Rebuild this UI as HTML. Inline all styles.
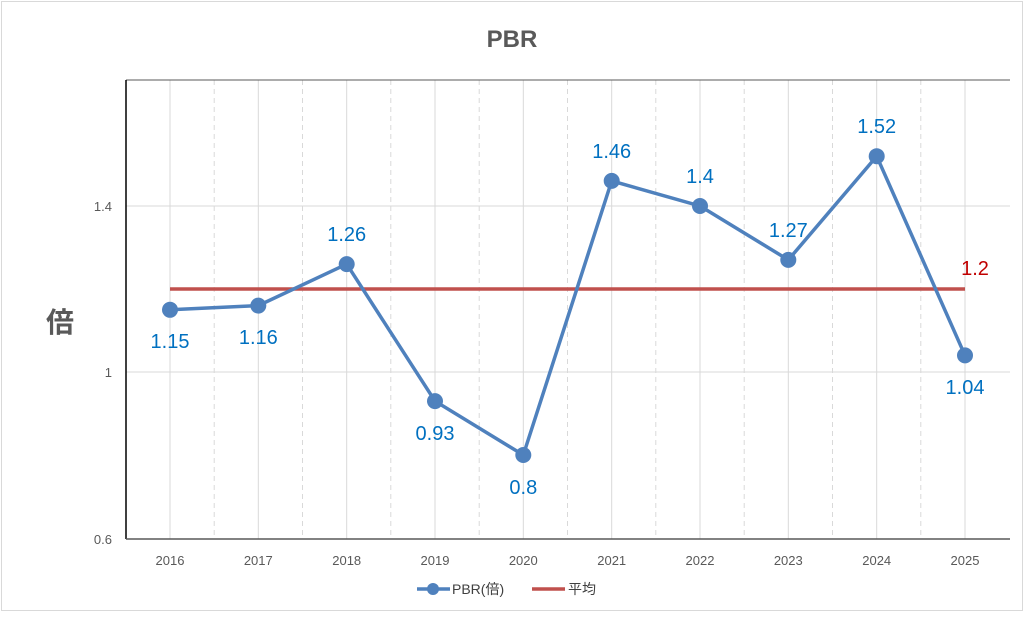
<!DOCTYPE html>
<html><head><meta charset="utf-8"><style>body{margin:0;background:#fff}</style></head><body>
<svg width="1024" height="613" viewBox="0 0 1024 613" xmlns="http://www.w3.org/2000/svg" font-family="Liberation Sans, Noto Sans CJK JP, sans-serif">
<rect x="1.5" y="1.5" width="1021" height="609" fill="#fff" stroke="#d9d9d9"/>
<text x="512" y="47" text-anchor="middle" font-size="24" font-weight="bold" fill="#595959">PBR</text>
<g stroke="#d9d9d9" stroke-width="1">
<line x1="126" y1="206" x2="1010" y2="206"/><line x1="126" y1="372" x2="1010" y2="372"/>
<line x1="170" y1="80" x2="170" y2="539"/><line x1="258.3" y1="80" x2="258.3" y2="539"/><line x1="346.7" y1="80" x2="346.7" y2="539"/><line x1="435" y1="80" x2="435" y2="539"/><line x1="523.3" y1="80" x2="523.3" y2="539"/><line x1="611.7" y1="80" x2="611.7" y2="539"/><line x1="700" y1="80" x2="700" y2="539"/><line x1="788.3" y1="80" x2="788.3" y2="539"/><line x1="876.7" y1="80" x2="876.7" y2="539"/><line x1="965" y1="80" x2="965" y2="539"/>
</g>
<g stroke="#d9d9d9" stroke-width="1" stroke-dasharray="5,4">
<line x1="214.2" y1="80" x2="214.2" y2="539"/><line x1="302.5" y1="80" x2="302.5" y2="539"/><line x1="390.8" y1="80" x2="390.8" y2="539"/><line x1="479.2" y1="80" x2="479.2" y2="539"/><line x1="567.5" y1="80" x2="567.5" y2="539"/><line x1="655.8" y1="80" x2="655.8" y2="539"/><line x1="744.2" y1="80" x2="744.2" y2="539"/><line x1="832.5" y1="80" x2="832.5" y2="539"/><line x1="920.8" y1="80" x2="920.8" y2="539"/>
</g>
<line x1="126" y1="80" x2="1010" y2="80" stroke="#595959"/>
<line x1="126" y1="80" x2="126" y2="539" stroke="#000" stroke-width="1.5"/>
<line x1="126" y1="539" x2="1010" y2="539" stroke="#595959" stroke-width="1.5"/>
<g font-size="13" fill="#595959" text-anchor="end">
<text x="112" y="211">1.4</text><text x="112" y="377">1</text><text x="112" y="544">0.6</text>
</g>
<text x="60" y="332" text-anchor="middle" font-size="28" font-weight="bold" fill="#595959">倍</text>
<g font-size="13" fill="#595959" text-anchor="middle">
<text x="170" y="565">2016</text><text x="258.3" y="565">2017</text><text x="346.7" y="565">2018</text><text x="435" y="565">2019</text><text x="523.3" y="565">2020</text><text x="611.7" y="565">2021</text><text x="700" y="565">2022</text><text x="788.3" y="565">2023</text><text x="876.7" y="565">2024</text><text x="965" y="565">2025</text>
</g>
<line x1="170" y1="289" x2="965" y2="289" stroke="#c0504d" stroke-width="3.5"/>
<polyline fill="none" stroke="#4f81bd" stroke-width="3.5" points="170,309.8 258.3,305.6 346.7,264.1 435,401.1 523.3,455 611.7,180.9 700,206 788.3,259.9 876.7,156.2 965,355.4"/>
<g fill="#4f81bd">
<circle cx="170" cy="309.8" r="8"/><circle cx="258.3" cy="305.6" r="8"/><circle cx="346.7" cy="264.1" r="8"/><circle cx="435" cy="401.1" r="8"/><circle cx="523.3" cy="455" r="8"/><circle cx="611.7" cy="180.9" r="8"/><circle cx="700" cy="206" r="8"/><circle cx="788.3" cy="259.9" r="8"/><circle cx="876.7" cy="156.2" r="8"/><circle cx="965" cy="355.4" r="8"/>
</g>
<g font-size="20" fill="#0070c0" text-anchor="middle">
<text x="170" y="348">1.15</text><text x="258.3" y="344">1.16</text><text x="346.7" y="241">1.26</text><text x="435" y="440">0.93</text><text x="523.3" y="494">0.8</text><text x="611.7" y="158">1.46</text><text x="700" y="183">1.4</text><text x="788.3" y="237">1.27</text><text x="876.7" y="133">1.52</text><text x="965" y="394">1.04</text>
</g>
<text x="975" y="275" text-anchor="middle" font-size="20" fill="#c00000">1.2</text>
<line x1="417" y1="589" x2="450" y2="589" stroke="#4f81bd" stroke-width="3.5"/>
<circle cx="433" cy="589" r="6" fill="#4f81bd"/>
<text x="452" y="594" font-size="14" fill="#404040">PBR(倍)</text>
<line x1="532" y1="589" x2="565" y2="589" stroke="#c0504d" stroke-width="3.5"/>
<text x="568" y="594" font-size="14" fill="#404040">平均</text>
</svg>
</body></html>
